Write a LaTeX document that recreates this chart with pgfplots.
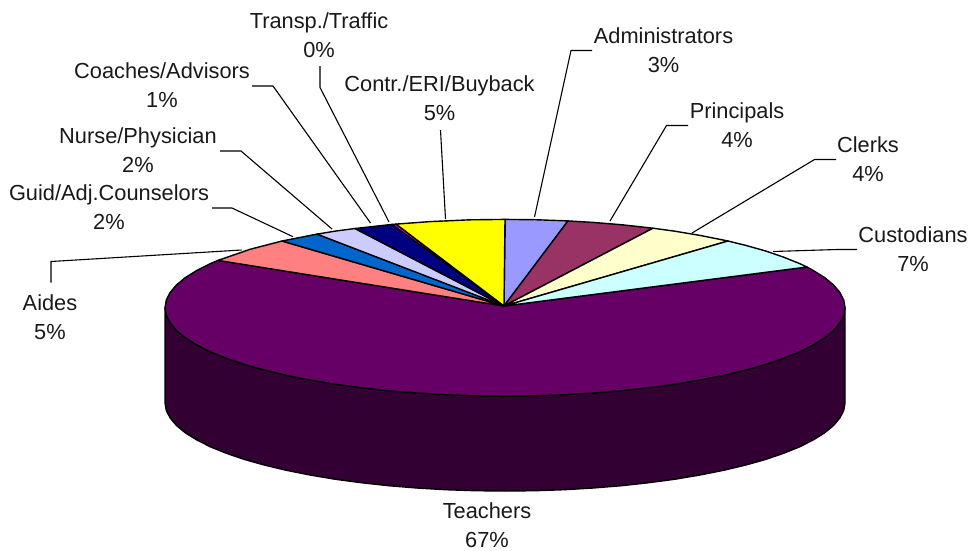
\documentclass[border=0pt]{standalone}
\usepackage{fontspec}
\setmainfont{Liberation Sans}
\usepackage{pgfplots}
\pgfplotsset{compat=1.18}
\definecolor{cAdmin}{HTML}{9999FF}
\definecolor{cPrinc}{HTML}{993366}
\definecolor{cClerk}{HTML}{FFFFCC}
\definecolor{cCust}{HTML}{CCFFFF}
\definecolor{cTeach}{HTML}{660066}
\definecolor{cSide}{HTML}{330033}
\definecolor{cAides}{HTML}{FF8080}
\definecolor{cGuid}{HTML}{0066CC}
\definecolor{cNurse}{HTML}{CCCCFF}
\definecolor{cCoach}{HTML}{000080}
\definecolor{cTransp}{HTML}{FF00FF}
\definecolor{cContr}{HTML}{FFFF00}
\pgfplotsset{
  wedge/.style={draw=black, line width=1.4pt, line join=round, mark=none},
  leader/.style={draw=black, line width=1.1pt, mark=none},
}
\tikzset{lab/.style={align=center, font=\fontsize{21.8}{28.5}\selectfont, text=black!90, inner sep=0pt}}
\begin{document}
\begin{tikzpicture}
% axis units are the picture's pixels, y runs downwards
\begin{axis}[
  scale only axis, width=973pt, height=550pt,
  xmin=0, xmax=973, ymin=0, ymax=550, y dir=reverse,
  hide axis, clip=false,
]
% rim of the disc
\addplot[wedge, fill=cSide] coordinates {
  (845,307.7) (843.7,315.4) (839.8,323) (833.4,330.6) (824.5,337.9) (813.1,345)
  (799.4,351.9) (783.5,358.3) (765.4,364.5) (745.4,370.1) (723.6,375.3) (700,380)
  (675,384.2) (648.7,387.7) (621.3,390.7) (593,393) (564,394.7) (534.6,395.7) (505,396)
  (475.4,395.7) (446,394.7) (417,393) (388.7,390.7) (361.3,387.7) (335,384.2) (310,380)
  (286.4,375.3) (264.6,370.1) (244.6,364.5) (226.5,358.3) (210.6,351.9) (196.9,345)
  (185.5,337.9) (176.6,330.6) (170.2,323) (166.3,315.4) (165,307.7)
  (165,402.7) (166.3,410.4) (170.2,418) (176.6,425.6) (185.5,432.9) (196.9,440)
  (210.6,446.9) (226.5,453.3) (244.6,459.5) (264.6,465.1) (286.4,470.3) (310,475)
  (335,479.2) (361.3,482.7) (388.7,485.7) (417,488) (446,489.7) (475.4,490.7) (505,491)
  (534.6,490.7) (564,489.7) (593,488) (621.3,485.7) (648.7,482.7) (675,479.2) (700,475)
  (723.6,470.3) (745.4,465.1) (765.4,459.5) (783.5,453.3) (799.4,446.9) (813.1,440)
  (824.5,432.9) (833.4,425.6) (839.8,418) (843.7,410.4) (845,402.7)
} -- cycle;
% Teachers
\addplot[wedge, fill=cTeach] coordinates {
  (504,306) (807,267) (813.1,270.4) (824.5,277.5) (833.4,284.8) (839.8,292.4) (843.7,300)
  (845,307.7) (843.7,315.4) (839.8,323) (833.4,330.6) (824.5,337.9) (813.1,345)
  (799.4,351.9) (783.5,358.3) (765.4,364.5) (745.4,370.1) (723.6,375.3) (700,380)
  (675,384.2) (648.7,387.7) (621.3,390.7) (593,393) (564,394.7) (534.6,395.7) (505,396)
  (475.4,395.7) (446,394.7) (417,393) (388.7,390.7) (361.3,387.7) (335,384.2) (310,380)
  (286.4,375.3) (264.6,370.1) (244.6,364.5) (226.5,358.3) (210.6,351.9) (196.9,345)
  (185.5,337.9) (176.6,330.6) (170.2,323) (166.3,315.4) (165,307.7)
  (166.3,300) (170.2,292.4) (176.6,284.8) (185.5,277.5) (196.9,270.4) (210.6,263.5) (218,260.4)
} -- cycle;
% Administrators
\addplot[wedge, fill=cAdmin] coordinates {(504,306) (505,219.4) (534.6,219.7) (568,220.9)} -- cycle;
% Principals
\addplot[wedge, fill=cPrinc] coordinates {(504,306) (568,220.9) (593,222.4) (621.3,224.7) (653,228.2)} -- cycle;
% Clerks
\addplot[wedge, fill=cClerk] coordinates {(504,306) (653,228.2) (675,231.2) (700,235.4) (728,241)} -- cycle;
% Custodians
\addplot[wedge, fill=cCust] coordinates {(504,306) (728,241) (745.4,245.3) (765.4,250.9) (783.5,257.1) (799.4,263.5) (807,267)} -- cycle;
% Aides
\addplot[wedge, fill=cAides] coordinates {(504,306) (218,260.4) (250,249.3) (282,241)} -- cycle;
% Guid/Adj.Counselors
\addplot[wedge, fill=cGuid] coordinates {(504,306) (282,241) (317,234.1)} -- cycle;
% Nurse/Physician
\addplot[wedge, fill=cNurse] coordinates {(504,306) (317,234.1) (336,231) (355,228.5)} -- cycle;
% Coaches/Advisors
\addplot[wedge, fill=cCoach] coordinates {(504,306) (355,228.5) (392,224.4)} -- cycle;
% Transp./Traffic
\addplot[wedge, fill=cTransp] coordinates {(504,306) (392,224.4) (396,224.1)} -- cycle;
% Contr./ERI/Buyback
\addplot[wedge, fill=cContr] coordinates {(504,306) (396,224.1) (430,221.6) (470,219.8) (505,219.4)} -- cycle;
% leader lines
\addplot[leader] coordinates {(534.5,217) (571,50.5) (592,50.5)};
\addplot[leader] coordinates {(610,221) (666.5,125.5) (688,125.5)};
\addplot[leader] coordinates {(692,233) (814.5,159.5) (836,159.5)};
\addplot[leader] coordinates {(773,251.5) (837,249.5) (857,249.5)};
\addplot[leader] coordinates {(445.5,219) (440.5,130)};
\addplot[leader] coordinates {(389,222) (320,87.5) (320,66)};
\addplot[leader] coordinates {(370.5,223) (273,86) (252,86)};
\addplot[leader] coordinates {(332,229) (241,151) (220,151)};
\addplot[leader] coordinates {(293,236.7) (232,208) (212,208)};
\addplot[leader] coordinates {(241.7,250) (51,261.5) (51,282.5)};
% labels
\node[lab] at (axis cs:663.5,50) {Administrators\\3\%};
\node[lab] at (axis cs:737,125) {Principals\\4\%};
\node[lab] at (axis cs:868,159) {Clerks\\4\%};
\node[lab] at (axis cs:913,249) {Custodians\\7\%};
\node[lab] at (axis cs:439.5,98) {Contr./ERI/Buyback\\5\%};
\node[lab] at (axis cs:319,35) {Transp./Traffic\\0\%};
\node[lab] at (axis cs:162,85) {Coaches/Advisors\\1\%};
\node[lab] at (axis cs:138,150) {Nurse/Physician\\2\%};
\node[lab] at (axis cs:109,207) {Guid/Adj.Counselors\\2\%};
\node[lab] at (axis cs:50,317) {Aides\\5\%};
\node[lab] at (axis cs:487,525) {Teachers\\67\%};
\end{axis}
% hidden axis gives no bounding box of its own
\path (0,0) rectangle (973pt,550pt);
\end{tikzpicture}
\end{document}
